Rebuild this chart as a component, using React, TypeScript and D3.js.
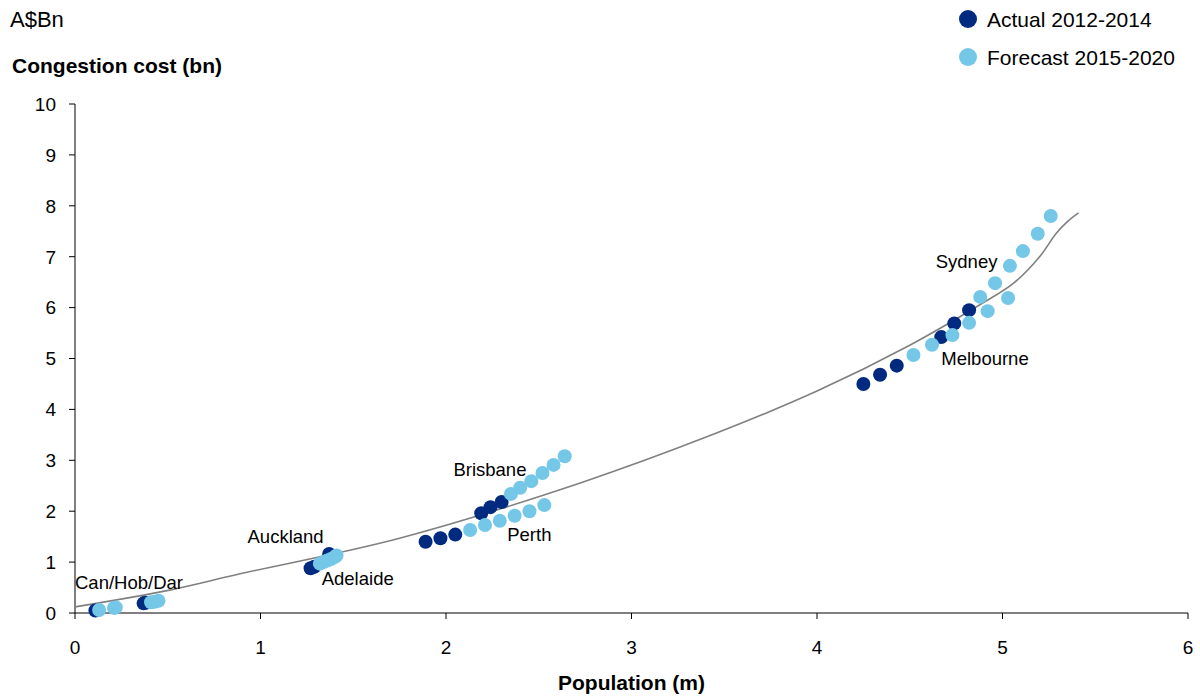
import React from 'react';
import * as d3 from 'd3';

// Population (m) vs congestion cost (A$bn)
const actualPop = [0.11, 0.37, 0.38, 1.27, 1.29, 1.37, 1.89, 1.97, 2.05, 2.19, 2.24, 2.30, 4.25, 4.34, 4.43, 4.67, 4.74, 4.82];
const actualCost = [0.05, 0.19, 0.20, 0.88, 0.91, 1.16, 1.40, 1.47, 1.54, 1.96, 2.08, 2.18, 4.50, 4.68, 4.86, 5.42, 5.69, 5.95];

const forecastPop = [
  0.13, 0.21, 0.22, 0.41, 0.43, 0.45,
  1.32, 1.34, 1.36, 1.38, 1.40, 1.41,
  2.13, 2.21, 2.29, 2.37, 2.45, 2.53,
  2.35, 2.40, 2.46, 2.52, 2.58, 2.64,
  4.52, 4.62, 4.73, 4.82, 4.92, 5.03,
  4.88, 4.96, 5.04, 5.11, 5.19, 5.26,
];
const forecastCost = [
  0.06, 0.10, 0.11, 0.21, 0.22, 0.24,
  0.97, 1.00, 1.03, 1.06, 1.10, 1.13,
  1.63, 1.73, 1.81, 1.91, 2.00, 2.12,
  2.34, 2.46, 2.59, 2.75, 2.91, 3.08,
  5.07, 5.27, 5.46, 5.70, 5.93, 6.19,
  6.21, 6.48, 6.82, 7.11, 7.45, 7.80,
];

// trend line
const trendPop = [0, 0.51, 0.89, 1.75, 2.72, 3.42, 4.0, 4.5, 4.88, 5.06, 5.20, 5.29, 5.35, 5.41];
const trendCost = [0.12, 0.45, 0.77, 1.47, 2.55, 3.48, 4.36, 5.26, 6.06, 6.48, 7.0, 7.46, 7.69, 7.86];

const cityNames = ['Can/Hob/Dar', 'Auckland', 'Adelaide', 'Brisbane', 'Perth', 'Sydney', 'Melbourne'];
const cityPop = [0, 0.93, 1.33, 2.04, 2.33, 4.64, 4.67];
const cityCost = [0.48, 1.38, 0.55, 2.69, 1.41, 6.77, 4.88];

const xTicks = [0, 1, 2, 3, 4, 5, 6];
const yTicks = [0, 1, 2, 3, 4, 5, 6, 7, 8, 9, 10];

const legendLabels = ['Actual 2012-2014', 'Forecast 2015-2020'];

const DARK = '#002a7f';
const LIGHT = '#74c7e7';
const FONT = '"Liberation Sans", Arial, sans-serif';

export default function App() {
  const width = 1200;
  const height = 698;
  const margin = { top: 104, right: 12, bottom: 85, left: 75 };

  const x = d3.scaleLinear().domain([0, 6]).range([margin.left, width - margin.right]);
  const y = d3.scaleLinear().domain([0, 10]).range([height - margin.bottom, margin.top]);

  const trend = d3.line<number>()
    .x((_, i) => x(trendPop[i]))
    .y((_, i) => y(trendCost[i]))
    .curve(d3.curveCatmullRom.alpha(0.5));

  const r = 7;

  return (
    <div style={{ position: 'absolute', left: 0, top: 0 }}>
      <svg width={width} height={height} style={{ display: 'block', fontFamily: FONT }}>
        <rect width={width} height={height} fill="#fff" />

        {/* header texts */}
        <text x={10} y={27} fontSize={22} fill="#000">A$Bn</text>
        <text x={12} y={73} fontSize={21} fontWeight="bold" fill="#000">Congestion cost (bn)</text>
        <text x={(x(0) + x(6)) / 2} y={690} fontSize={21} fontWeight="bold" textAnchor="middle" fill="#000">Population (m)</text>

        {/* axes */}
        <g stroke="#000" strokeWidth={1}>
          <line x1={x(0)} x2={x(0)} y1={y(0)} y2={y(10)} />
          <line x1={x(0)} x2={x(6)} y1={y(0)} y2={y(0)} />
          {yTicks.map(t => (
            <line key={'yt' + t} x1={x(0) - 6} x2={x(0)} y1={y(t)} y2={y(t)} />
          ))}
          {xTicks.map(t => (
            <line key={'xt' + t} x1={x(t)} x2={x(t)} y1={y(0)} y2={y(0) + 6} />
          ))}
        </g>
        {yTicks.map(t => (
          <text key={'yl' + t} x={x(0) - 19} y={y(t)} dy="0.36em" fontSize={19} textAnchor="end" fill="#000">{t}</text>
        ))}
        {xTicks.map(t => (
          <text key={'xl' + t} x={x(t)} y={y(0) + 41} fontSize={19} textAnchor="middle" fill="#000">{t}</text>
        ))}

        {/* trend */}
        <path d={trend(trendPop) || ''} fill="none" stroke="#808080" strokeWidth={1.6} />

        {/* points */}
        {actualPop.map((p, i) => (
          <circle key={'a' + i} cx={x(p)} cy={y(actualCost[i])} r={r} fill={DARK} />
        ))}
        {forecastPop.map((p, i) => (
          <circle key={'f' + i} cx={x(p)} cy={y(forecastCost[i])} r={r} fill={LIGHT} />
        ))}

        {/* city labels */}
        {cityNames.map((name, i) => (
          <text key={name} x={x(cityPop[i])} y={y(cityCost[i])} fontSize={18.5} fill="#000">{name}</text>
        ))}

        {/* legend */}
        {legendLabels.map((label, i) => (
          <g key={label} transform={`translate(968, ${19 + i * 38})`}>
            <circle r={9} fill={i === 0 ? DARK : LIGHT} />
            <text x={19} y={8} fontSize={21} fill="#000">{label}</text>
          </g>
        ))}
      </svg>
    </div>
  );
}
